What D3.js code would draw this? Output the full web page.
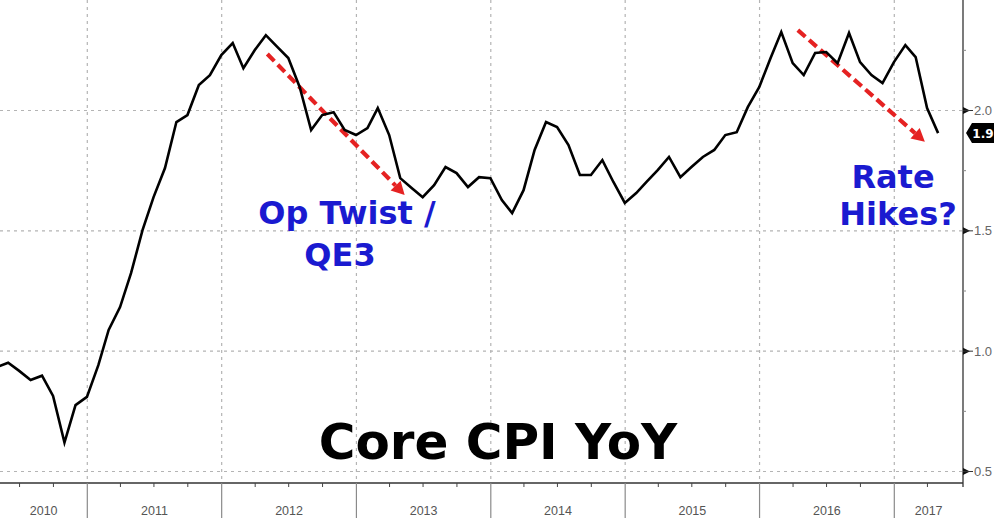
<!DOCTYPE html>
<html>
<head>
<meta charset="utf-8">
<script src="https://cdn.jsdelivr.net/npm/d3@7"></script>
<style>
  html, body { margin: 0; padding: 0; background: #fff; }
  svg { display: block; }
</style>
</head>
<body>
<svg id="chart" width="1000" height="526"></svg>
<script>
// ---------------- DATA ----------------
const firstMonth = "2010-04";   // first observation (plotted at month end)
const coreCpi = [
  // 2010 Apr-Dec
  0.934, 0.952, 0.918, 0.880, 0.898, 0.814, 0.620, 0.776, 0.810,
  // 2011
  0.942, 1.088, 1.183, 1.325, 1.503, 1.640, 1.761, 1.952, 1.981, 2.106, 2.147, 2.230,
  // 2012
  2.280, 2.176, 2.251, 2.313, 2.264, 2.218, 2.097, 1.919, 1.981, 1.993, 1.919, 1.898,
  // 2013
  1.927, 2.010, 1.898, 1.719, 1.678, 1.640, 1.690, 1.765, 1.740, 1.682, 1.723, 1.719,
  // 2014
  1.628, 1.574, 1.669, 1.836, 1.952, 1.931, 1.856, 1.732, 1.732, 1.794, 1.703, 1.616,
  // 2015
  1.657, 1.703, 1.753, 1.807, 1.723, 1.765, 1.807, 1.836, 1.898, 1.910, 2.014, 2.097,
  // 2016
  2.218, 2.326, 2.197, 2.147, 2.239, 2.243, 2.197, 2.322, 2.201, 2.147, 2.114, 2.201,
  // 2017 Jan-Apr
  2.272, 2.222, 2.010, 1.906
];
const yearLabels = ["2010", "2011", "2012", "2013", "2014", "2015", "2016", "2017"];
const yTickValues = [0.5, 1.0, 1.5, 2.0];
const yMinorTicks = [0.75, 1.25, 1.75, 2.25];
const titleText = "Core CPI YoY";
const noteOpTwist = ["Op Twist /", "QE3"];
const noteRateHikes = ["Rate", "Hikes?"];
// annotation arrows: [start date, start value, end date, end value]
const arrowOpTwist = ["2012-05-04", 2.235, "2013-05-12", 1.649];
const arrowRateHikes = ["2016-04-14", 2.334, "2017-03-25", 1.870];

// ---------------- LAYOUT ----------------
const plotRight = 963, plotBottom = 483;
const svg = d3.select("#chart");

const parseMonth = d3.utcParse("%Y-%m");
const parseDay = d3.utcParse("%Y-%m-%d");
const start = parseMonth(firstMonth);
const data = coreCpi.map((v, i) => ({
  date: d3.utcDay.offset(d3.utcMonth.offset(start, i + 1), -1),
  value: v
}));

const x = d3.scaleUtc()
  .domain([Date.UTC(2011, 0, 1), Date.UTC(2017, 0, 1)])
  .range([87.3, 894.3]);
const y = d3.scaleLinear()
  .domain([0.5, 2.0])
  .range([471.5, 110.5]);

const gridColor = "#b4b4b4";

svg.append("defs").append("clipPath").attr("id", "plotclip")
  .append("rect").attr("x", 0).attr("y", 0).attr("width", plotRight).attr("height", plotBottom);

// horizontal gridlines
svg.append("g").selectAll("line").data(yTickValues).join("line")
  .attr("x1", 0).attr("x2", plotRight)
  .attr("y1", d => y(d)).attr("y2", d => y(d))
  .attr("stroke", gridColor).attr("stroke-width", 1.2)
  .attr("stroke-dasharray", "3,4");

// vertical year gridlines
const yearStarts = yearLabels.slice(1).map(s => Date.UTC(+s, 0, 1));
svg.append("g").selectAll("line").data(yearStarts).join("line")
  .attr("x1", d => x(d)).attr("x2", d => x(d))
  .attr("y1", 0).attr("y2", plotBottom)
  .attr("stroke", gridColor).attr("stroke-width", 1.2)
  .attr("stroke-dasharray", "3,4");

// title
svg.append("text")
  .attr("x", 498).attr("y", 459)
  .attr("text-anchor", "middle")
  .attr("font-family", "DejaVu Sans, Verdana, sans-serif")
  .attr("font-weight", "bold")
  .attr("font-size", 50)
  .attr("fill", "#000")
  .text(titleText);

// blue annotations
const blue = "#1a1ad0";
const noteFont = "DejaVu Sans, Verdana, sans-serif";
svg.append("text").attr("x", 347).attr("y", 223.5).attr("text-anchor", "middle")
  .attr("font-family", noteFont).attr("font-weight", "bold").attr("font-size", 32)
  .attr("fill", blue).text(noteOpTwist[0]);
svg.append("text").attr("x", 340).attr("y", 265.5).attr("text-anchor", "middle")
  .attr("font-family", noteFont).attr("font-weight", "bold").attr("font-size", 32)
  .attr("fill", blue).text(noteOpTwist[1]);
svg.append("text").attr("x", 893).attr("y", 188).attr("text-anchor", "middle")
  .attr("font-family", noteFont).attr("font-weight", "bold").attr("font-size", 32)
  .attr("fill", blue).text(noteRateHikes[0]);
svg.append("text").attr("x", 898).attr("y", 224.5).attr("text-anchor", "middle")
  .attr("font-family", noteFont).attr("font-weight", "bold").attr("font-size", 32)
  .attr("fill", blue).text(noteRateHikes[1]);

// red dashed arrows
const red = "#e52222";
function drawArrow(a) {
  const x1 = x(parseDay(a[0])), y1 = y(a[1]);
  const x2 = x(parseDay(a[2])), y2 = y(a[3]);
  const ang = Math.atan2(y2 - y1, x2 - x1);
  const headLen = 13, headW = 7;
  const bx = x2 - headLen * Math.cos(ang), by = y2 - headLen * Math.sin(ang);
  svg.append("line")
    .attr("x1", x1).attr("y1", y1).attr("x2", bx).attr("y2", by)
    .attr("stroke", red).attr("stroke-width", 4.2)
    .attr("stroke-dasharray", "10,5");
  const px = -Math.sin(ang), py = Math.cos(ang);
  svg.append("path")
    .attr("d", `M${x2},${y2}L${bx + px * headW},${by + py * headW}L${bx - px * headW},${by - py * headW}Z`)
    .attr("fill", red);
}
drawArrow(arrowOpTwist);
drawArrow(arrowRateHikes);

// the series line
const line = d3.line().x(d => x(d.date)).y(d => y(d.value));
svg.append("path")
  .datum(data)
  .attr("clip-path", "url(#plotclip)")
  .attr("d", line)
  .attr("fill", "none")
  .attr("stroke", "#000")
  .attr("stroke-width", 2.6)
  .attr("stroke-linejoin", "miter");

// bottom axis line
svg.append("line").attr("x1", 0).attr("x2", plotRight)
  .attr("y1", plotBottom).attr("y2", plotBottom)
  .attr("stroke", "#333").attr("stroke-width", 1.3);

// quarter ticks
const quarters = d3.utcMonth.every(3).range(Date.UTC(2010, 0, 1), Date.UTC(2017, 6, 1))
  .filter(d => d.getUTCMonth() !== 0 && x(d) > 0 && x(d) < plotRight);
svg.append("g").selectAll("line").data(quarters).join("line")
  .attr("x1", d => x(d)).attr("x2", d => x(d))
  .attr("y1", plotBottom).attr("y2", plotBottom + 4)
  .attr("stroke", "#444").attr("stroke-width", 1);

// year separators
svg.append("g").selectAll("line").data(yearStarts).join("line")
  .attr("x1", d => x(d)).attr("x2", d => x(d))
  .attr("y1", plotBottom).attr("y2", 518)
  .attr("stroke", "#8a8a8a").attr("stroke-width", 1.2);

// year labels centered in visible span
svg.append("g").selectAll("text").data(yearLabels).join("text")
  .attr("x", d => {
    const a = Math.max(0, x(Date.UTC(+d, 0, 1)));
    const b = Math.min(plotRight, x(Date.UTC(+d + 1, 0, 1)));
    return (a + b) / 2;
  })
  .attr("y", 515)
  .attr("text-anchor", "middle")
  .attr("font-family", "Liberation Sans, Arial, sans-serif")
  .attr("font-size", 12.5)
  .attr("fill", "#555")
  .text(d => d);

// right axis
svg.append("line").attr("x1", plotRight).attr("x2", plotRight)
  .attr("y1", 0).attr("y2", plotBottom + 4)
  .attr("stroke", "#333").attr("stroke-width", 1.3);

const yAxisG = svg.append("g");
yAxisG.selectAll("path.tri").data(yTickValues).join("path")
  .attr("class", "tri")
  .attr("d", d => `M${plotRight},${y(d) - 3.5}L${plotRight + 7},${y(d)}L${plotRight},${y(d) + 3.5}Z`)
  .attr("fill", "#111");
yAxisG.selectAll("line.tk").data(yTickValues).join("line")
  .attr("class", "tk")
  .attr("x1", plotRight).attr("x2", plotRight + 10)
  .attr("y1", d => y(d)).attr("y2", d => y(d))
  .attr("stroke", "#333").attr("stroke-width", 1);
yAxisG.selectAll("line.minor").data(yMinorTicks).join("line")
  .attr("class", "minor")
  .attr("x1", plotRight).attr("x2", plotRight + 3)
  .attr("y1", d => y(d)).attr("y2", d => y(d))
  .attr("stroke", "#888").attr("stroke-width", 1);
yAxisG.selectAll("text").data(yTickValues).join("text")
  .attr("x", plotRight + 11).attr("y", d => y(d) + 4.5)
  .attr("font-family", "Liberation Sans, Arial, sans-serif")
  .attr("font-size", 13)
  .attr("fill", "#666")
  .text(d => d3.format(".1f")(d));

// last value tag
const last = data[data.length - 1];
const ly = y(last.value);
svg.append("path")
  .attr("d", `M${plotRight + 3},${ly}L${plotRight + 9},${ly - 10}L${plotRight + 31},${ly - 10}L${plotRight + 31},${ly + 10}L${plotRight + 9},${ly + 10}Z`)
  .attr("fill", "#000");
svg.append("text")
  .attr("x", plotRight + 20).attr("y", ly + 4.5)
  .attr("text-anchor", "middle")
  .attr("font-family", "DejaVu Sans, Arial, sans-serif")
  .attr("font-weight", "bold")
  .attr("font-size", 12)
  .attr("fill", "#fff")
  .text(d3.format(".1f")(last.value));
</script>
</body>
</html>
